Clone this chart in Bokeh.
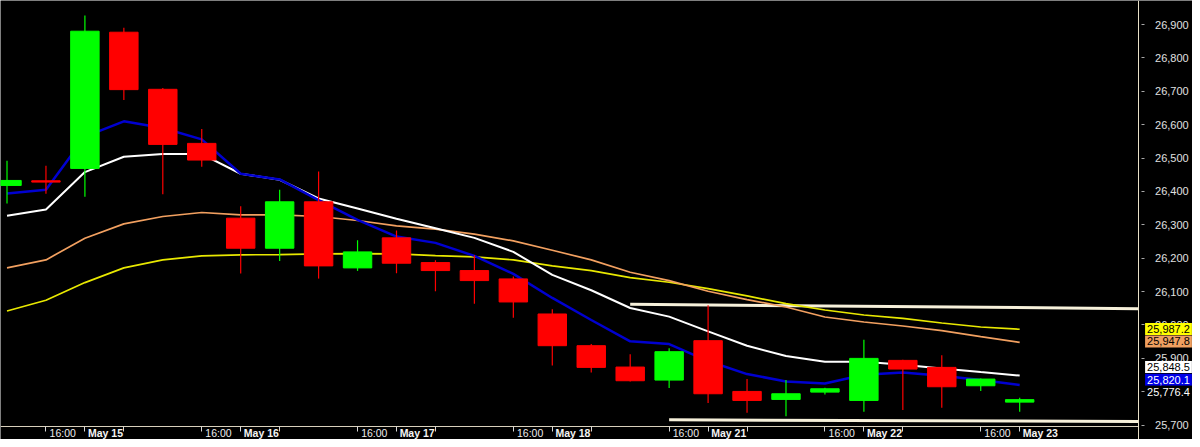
from bokeh.plotting import figure
from bokeh.models import (ColumnDataSource, FixedTicker, NumeralTickFormatter, Label, Range1d,
                          LinearAxis)
from bokeh.embed import file_html
from bokeh.resources import INLINE

# ---------------- data ----------------
bars = list(range(27))
opens = [26418, 26432, 26469, 26877, 26706, 26544, 26320, 26230, 26369, 26171,
         26261, 26187, 26163, 26138, 26033, 25938, 25874, 25835, 25953, 25801,
         25777, 25799, 25774, 25894, 25873, 25818, 25769]
highs = [26492, 26477, 26927, 26890, 26710, 26587, 26356, 26405, 26460, 26254,
         26283, 26194, 26209, 26145, 26047, 25943, 25912, 25930, 26059, 25838,
         25835, 25812, 25956, 25896, 25909, 25840, 25782]
lows = [26364, 26393, 26384, 26674, 26392, 26474, 26154, 26192, 26139, 26162,
        26155, 26101, 26064, 26022, 25879, 25858, 25831, 25811, 25766, 25737,
        25727, 25792, 25740, 25745, 25752, 25802, 25740]
closes = [26433, 26428, 26880, 26705, 26541, 26494, 26230, 26369, 26177, 26219,
          26185, 26163, 26133, 26069, 25938, 25873, 25833, 25920, 25794, 25774,
          25794, 25809, 25900, 25868, 25815, 25838, 25776.4]

ma_blue = [26394, 26405, 26564, 26610, 26590, 26556, 26453, 26436, 26374, 26315,
           26265, 26246, 26207, 26153, 26081, 26015, 25951, 25943, 25892, 25853,
           25831, 25825, 25851, 25858, 25848, 25835, 25820.1]
ma_white = [26327, 26346, 26458, 26504, 26512, 26512, 26453, 26435, 26379, 26349,
            26318, 26290, 26261, 26219, 26150, 26104, 26051, 26025, 25981, 25938,
            25907, 25890, 25890, 25881, 25870, 25859, 25848.5]
ma_orange = [26171, 26195, 26260, 26303, 26325, 26337, 26330, 26330, 26325, 26313,
             26297, 26287, 26272, 26252, 26224, 26195, 26158, 26133, 26101, 26076,
             26054, 26024, 26009, 25997, 25983, 25965, 25947.8]
ma_yellow = [26042, 26074, 26127, 26171, 26195, 26207, 26210, 26211, 26213, 26214,
             26213, 26208, 26204, 26195, 26177, 26163, 26142, 26128, 26109, 26087,
             26064, 26045, 26030, 26020, 26006, 25994, 25987.2]

trend_hi_x = [16, 29.04]
trend_hi_y = [26062, 26049]
trend_lo_x = [17, 29.04]
trend_lo_y = [25716, 25711]

time_tick_bars = [1, 5, 9, 13, 17, 21, 25]
time_tick_labels = ["16:00"] * 7
date_tick_bars = [2, 6, 10, 14, 18, 22, 26]
date_tick_labels = ["May 15", "May 16", "May 17", "May 18", "May 21", "May 22", "May 23"]
mark_tick_bars = [1, 2, 3, 5, 6, 7, 9, 10, 11, 13, 14, 15, 17, 18, 19, 21, 22, 23, 25, 26]
price_ticks = list(range(25700, 27000, 100))

# ---------------- layout / styles ----------------
UP = "#00ff00"
DOWN = "#ff0000"
CREAM = "#f6f0da"
BG = "#000000"
X_START, X_END = -0.167, 30.437     # bar units visible across the canvas
Y_START, Y_END = 25657, 26972       # price units visible top to bottom
PRICE_AXIS_AT = 29.04               # bar position of the price scale line
TIME_AXIS_AT = 25696                # price level of the time axis line
TIME_LABEL_SHIFT = 0.43             # label centre right of its tick (bars)
DATE_LABEL_SHIFT = 0.53

p = figure(frame_width=1192, frame_height=439, output_backend="svg", toolbar_location=None,
           x_range=Range1d(X_START, X_END), y_range=Range1d(Y_START, Y_END),
           y_axis_location="right", min_border_left=0, min_border_top=0,
           min_border_right=0, min_border_bottom=0)
p.background_fill_color = BG
p.border_fill_color = BG
p.outline_line_color = None
p.grid.visible = False

# trend lines
p.line(trend_hi_x, trend_hi_y, line_color=CREAM, line_width=3)
p.line(trend_lo_x, trend_lo_y, line_color=CREAM, line_width=3)

# moving averages
p.line(bars, ma_yellow, line_color="#e8e800", line_width=1.7)
p.line(bars, ma_orange, line_color="#f2a060", line_width=1.7)
p.line(bars, ma_white, line_color="#ffffff", line_width=2)
p.line(bars, ma_blue, line_color="#0000d0", line_width=2.5)

# candles
colors = [UP if c >= o else DOWN for o, c in zip(opens, closes)]
src = ColumnDataSource(dict(
    x=bars, high=highs, low=lows,
    top=[max(o, c) for o, c in zip(opens, closes)],
    bottom=[min(o, c) for o, c in zip(opens, closes)],
    color=colors))
p.segment(x0="x", y0="high", x1="x", y1="low", line_color="color", line_width=1.2, source=src)
p.vbar(x="x", width=0.73, top="top", bottom="bottom", fill_color="color", line_color="color",
       line_width=1, source=src)

# x axis line + tick marks (no labels)
xa = p.xaxis[0]
xa.fixed_location = TIME_AXIS_AT
xa.ticker = FixedTicker(ticks=mark_tick_bars)
xa.bounds = (X_START, PRICE_AXIS_AT)
xa.major_tick_out = 5
xa.major_tick_in = 0
xa.minor_tick_line_color = None
xa.major_tick_line_color = "#d8d8d8"
xa.axis_line_color = "#d8d0bc"
xa.major_label_text_color = None
xa.major_label_text_font_size = "1px"

# x labels: times (normal) and dates (bold), in the same strip
time_major = [round(b + TIME_LABEL_SHIFT, 3) for b in time_tick_bars]
date_major = [round(b + DATE_LABEL_SHIFT, 3) for b in date_tick_bars]
for ticks, labels, style, color in [(time_major, time_tick_labels, "normal", "#eeeeee"),
                                    (date_major, date_tick_labels, "bold", "#f4f4f4")]:
    ax = LinearAxis(fixed_location=TIME_AXIS_AT,
                    ticker=FixedTicker(ticks=ticks),
                    major_label_overrides={t: l for t, l in zip(ticks, labels)},
                    axis_line_color=None, major_tick_line_color=None, minor_tick_line_color=None,
                    major_tick_out=0, major_tick_in=0, major_label_standoff=1,
                    major_label_text_color=color, major_label_text_font="Liberation Sans",
                    major_label_text_font_size="10.5px", major_label_text_font_style=style)
    p.add_layout(ax, "below")

# price scale (right), drawn at a fixed bar position
ya = p.yaxis[0]
ya.fixed_location = PRICE_AXIS_AT
ya.ticker = FixedTicker(ticks=price_ticks)
ya.formatter = NumeralTickFormatter(format="0,0")
ya.axis_line_color = "#e8e0c8"
ya.major_tick_in = -3
ya.major_tick_out = 6
ya.major_tick_line_color = "#a8a8a8"
ya.minor_tick_line_color = None
ya.major_label_standoff = 11
ya.major_label_text_color = "#e0e0e0"
ya.major_label_text_font = "Liberation Sans"
ya.major_label_text_font_size = "11px"

# last-value markers on the price scale
marker_values = [ma_yellow[-1], ma_orange[-1], ma_white[-1], ma_blue[-1], closes[-1]]
marker_shift = [1, 3, 26, 16, 24]
marker_bg = ["#ffff00", "#f0a060", "#ffffff", "#0000e8", BG]
marker_fg = ["#000000", "#000000", "#000000", "#ffffff", "#ffffff"]
for v, s, bg, fg in zip(marker_values, marker_shift, marker_bg, marker_fg):
    p.add_layout(Label(x=PRICE_AXIS_AT, y=v + s, x_offset=7,
                       text=f"{v:,.1f}", text_font="Liberation Sans", text_font_size="11px",
                       text_color=fg, text_baseline="middle", text_align="left",
                       background_fill_color=bg, padding=2))

open("out.html", "w").write(file_html(p, INLINE))
